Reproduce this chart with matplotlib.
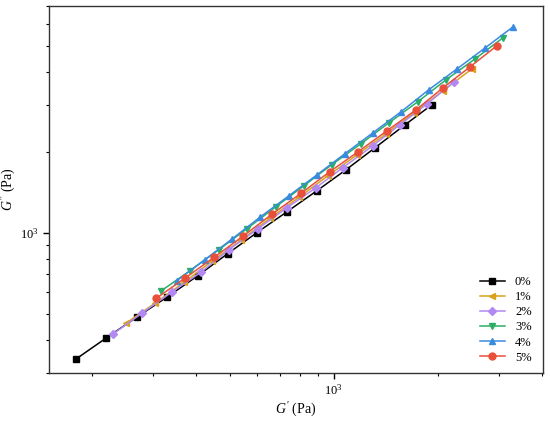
import matplotlib
matplotlib.use("Agg")
import matplotlib.pyplot as plt
from matplotlib.ticker import NullFormatter, LogLocator

plt.rcParams['font.family'] = ['Liberation Serif', 'DejaVu Serif']
plt.rcParams['mathtext.fontset'] = 'custom'
plt.rcParams['mathtext.rm'] = 'Liberation Serif'
plt.rcParams['mathtext.it'] = 'Liberation Serif:italic'

# G' (Pa) / G'' (Pa)
G1_0 = [180, 220, 270, 330, 404, 493, 598, 731, 893, 1084, 1315, 1607, 1923]
G2_0 = [339, 406, 486, 577, 692, 836, 1000, 1197, 1435, 1718, 2075, 2529, 3006]
G1_1 = [251, 305, 370, 446, 541, 656, 796, 962, 1167, 1416, 1706, 2070, 2512]
G2_1 = [461, 548, 656, 787, 942, 1138, 1361, 1633, 1954, 2339, 2805, 3388, 4093]
G1_2 = [230, 279, 341, 414, 497, 603, 731, 887, 1062, 1297, 1552, 1862, 2228]
G2_2 = [420, 502, 603, 715, 865, 1035, 1239, 1472, 1750, 2113, 2529, 3027, 3656]
G1_3 = [317, 383, 465, 560, 679, 818, 986, 1197, 1442, 1750, 2113, 2564, 3090]
G2_3 = [608, 721, 865, 1035, 1250, 1496, 1795, 2148, 2570, 3083, 3724, 4457, 5346]
G1_4 = [351, 423, 509, 614, 741, 893, 1076, 1297, 1563, 1884, 2275, 2742, 3304]
G2_4 = [662, 793, 951, 1148, 1374, 1644, 1972, 2360, 2825, 3420, 4093, 4898, 5875]
G1_5 = [307, 372, 452, 548, 665, 807, 973, 1175, 1426, 1730, 2070, 2477, 2965]
G2_5 = [571, 679, 813, 975, 1178, 1409, 1690, 2005, 2404, 2877, 3475, 4159, 4989]

LABELS = ['0%', '1%', '2%', '3%', '4%', '5%']
COLORS = ['#000000', '#D9A21E', '#B288F2', '#2BAE66', '#3A8BE0', '#E8503A']
MARKERS = ['s', '<', 'D', 'v', '^', 'o']


def main():
    xs = [G1_0, G1_1, G1_2, G1_3, G1_4, G1_5]
    ys = [G2_0, G2_1, G2_2, G2_3, G2_4, G2_5]
    fig = plt.figure(figsize=(5.5, 4.22), dpi=100)
    ax = fig.add_axes([0.089, 0.116, 0.898, 0.870])
    for x, y, lab, c, m in zip(xs, ys, LABELS, COLORS, MARKERS):
        ms = 4.5 if m == 'D' else 5.0
        ax.plot(x, y, color=c, marker=m, markersize=ms, linewidth=1.1,
                label=lab)
    ax.set_xscale('log')
    ax.set_yscale('log')
    ax.set_xlim(150, 4030)
    ax.set_ylim(300, 7030)
    for axis in (ax.xaxis, ax.yaxis):
        axis.set_major_locator(LogLocator(base=10))
        axis.set_minor_locator(LogLocator(base=10, subs=range(2, 10)))
        axis.set_minor_formatter(NullFormatter())
    ax.tick_params(which='both', direction='out', top=False, right=False,
                   labelsize=9)
    ax.tick_params(which='major', length=4, width=1)
    ax.tick_params(which='minor', length=2.5, width=0.8)
    for s in ax.spines.values():
        s.set_linewidth(1.0)
        s.set_color('#333333')
    ax.set_xlabel(r"$G^{\prime}$ (Pa)", fontsize=10, labelpad=2)
    ax.set_ylabel(r"$G^{\prime\prime}$ (Pa)", fontsize=10)
    ax.yaxis.set_label_coords(-0.062, 0.5)
    ax.legend(loc='lower right', frameon=False, fontsize=9,
              handlelength=2.0, labelspacing=0.25,
              bbox_to_anchor=(1.0, -0.005))
    fig.savefig('out.png', dpi=100)


if __name__ == "__main__":
    main()
